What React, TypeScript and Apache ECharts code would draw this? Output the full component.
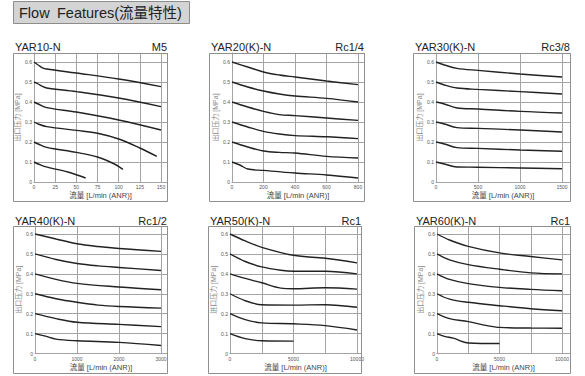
import React, { useEffect, useRef } from "react";
import * as echarts from "echarts";

// ---- data ----
const PANEL_TITLES = ["YAR10-N", "YAR20(K)-N", "YAR30(K)-N", "YAR40(K)-N", "YAR50(K)-N", "YAR60(K)-N"];
const PORT_SIZES = ["M5", "Rc1/4", "Rc3/8", "Rc1/2", "Rc1", "Rc1"];
const X_DATA_MAX = [150, 800, 1500, 3000, 10000, 10000];
const X_GRID_STEPS = [25, 200, 500, 1000, 2500, 2500];
const X_LABEL_STEPS = [25, 200, 500, 1000, 5000, 5000];
const Y_TICK_STEP = 0.1;
const Y_DATA_MAX = 0.6;
const Y_AXIS_NAMES = ["出口压力 [MPa]", "出口压力 [MPa]", "出口压力 [MPa]", "出口压力 [MPa]", "进口压力 [MPa]", "出口压力 [MPa]"];
const X_AXIS_NAME = "流量 [L/min (ANR)]";
const HEADER_WORDS = ["Flow", "Features(流量特性)"];

const YAR10 = [
  [[0, 0.6], [5, 0.585], [10, 0.571], [15, 0.565], [50, 0.545], [100, 0.515], [150, 0.477]],
  [[0, 0.5], [5, 0.49], [10, 0.478], [15, 0.47], [50, 0.452], [100, 0.42], [150, 0.377]],
  [[0, 0.4], [5, 0.39], [15, 0.372], [50, 0.35], [100, 0.31], [150, 0.26]],
  [[0, 0.3], [5, 0.29], [15, 0.277], [50, 0.258], [75, 0.244], [100, 0.215], [125, 0.17], [145, 0.128]],
  [[0, 0.2], [5, 0.19], [15, 0.173], [50, 0.148], [75, 0.125], [95, 0.09], [105, 0.063]],
  [[0, 0.1], [5, 0.09], [12, 0.078], [40, 0.05], [61, 0.02]],
];
const YAR20 = [
  [[0, 0.6], [100, 0.575], [200, 0.55], [300, 0.535], [400, 0.525], [600, 0.505], [800, 0.487]],
  [[0, 0.5], [100, 0.475], [200, 0.455], [300, 0.44], [400, 0.43], [600, 0.418], [800, 0.4]],
  [[0, 0.4], [100, 0.375], [200, 0.353], [300, 0.337], [400, 0.332], [600, 0.32], [800, 0.308]],
  [[0, 0.3], [100, 0.275], [200, 0.253], [300, 0.24], [400, 0.232], [600, 0.226], [800, 0.217]],
  [[0, 0.2], [100, 0.175], [200, 0.155], [300, 0.148], [400, 0.145], [600, 0.128], [800, 0.12]],
  [[0, 0.1], [50, 0.085], [100, 0.065], [200, 0.058], [400, 0.045], [600, 0.035], [800, 0.02]],
];
const YAR30 = [
  [[0, 0.6], [100, 0.585], [250, 0.568], [500, 0.558], [1000, 0.54], [1500, 0.525]],
  [[0, 0.5], [100, 0.485], [250, 0.47], [500, 0.463], [1000, 0.452], [1500, 0.44]],
  [[0, 0.4], [100, 0.39], [250, 0.37], [500, 0.365], [1000, 0.353], [1500, 0.345]],
  [[0, 0.3], [100, 0.29], [250, 0.272], [500, 0.268], [1000, 0.26], [1500, 0.25]],
  [[0, 0.2], [100, 0.19], [250, 0.172], [500, 0.168], [1000, 0.16], [1500, 0.154]],
  [[0, 0.1], [100, 0.09], [250, 0.075], [500, 0.074], [1000, 0.07], [1500, 0.066]],
];
const YAR40 = [
  [[0, 0.6], [500, 0.575], [1000, 0.551], [1500, 0.537], [2000, 0.527], [3000, 0.513]],
  [[0, 0.5], [500, 0.472], [1000, 0.452], [1500, 0.44], [2000, 0.432], [3000, 0.417]],
  [[0, 0.4], [500, 0.372], [1000, 0.352], [2000, 0.334], [3000, 0.32]],
  [[0, 0.3], [500, 0.275], [1000, 0.257], [1500, 0.243], [2000, 0.236], [3000, 0.228]],
  [[0, 0.2], [500, 0.175], [1000, 0.157], [2000, 0.146], [3000, 0.135]],
  [[0, 0.1], [250, 0.087], [500, 0.072], [1000, 0.064], [2000, 0.056], [3000, 0.04]],
];
const YAR50 = [
  [[0, 0.6], [1200, 0.565], [2500, 0.533], [5000, 0.493], [7500, 0.478], [10000, 0.455]],
  [[0, 0.5], [1200, 0.462], [2500, 0.435], [4000, 0.418], [5000, 0.413], [7500, 0.413], [10000, 0.4]],
  [[0, 0.4], [1200, 0.377], [2500, 0.355], [4000, 0.328], [5000, 0.325], [7500, 0.33], [10000, 0.323]],
  [[0, 0.3], [1200, 0.265], [2500, 0.245], [5000, 0.243], [7500, 0.245], [10000, 0.232]],
  [[0, 0.2], [1200, 0.17], [2500, 0.154], [5000, 0.149], [7500, 0.14], [10000, 0.118]],
  [[0, 0.1], [1200, 0.075], [2500, 0.064], [5000, 0.062]],
];
const YAR60 = [
  [[0, 0.6], [1000, 0.57], [2500, 0.538], [5000, 0.505], [7500, 0.487], [10000, 0.47]],
  [[0, 0.5], [1000, 0.47], [2500, 0.446], [5000, 0.423], [7500, 0.405], [10000, 0.4]],
  [[0, 0.4], [1000, 0.372], [2500, 0.351], [5000, 0.332], [7500, 0.322], [10000, 0.315]],
  [[0, 0.3], [1000, 0.273], [2500, 0.257], [5000, 0.24], [7500, 0.225], [10000, 0.215]],
  [[0, 0.2], [1000, 0.175], [2500, 0.16], [4000, 0.14], [5000, 0.131], [7500, 0.128], [10000, 0.127]],
  [[0, 0.1], [600, 0.086], [1300, 0.077], [2500, 0.053], [5000, 0.05]],
];
const PANEL_DATA = [YAR10, YAR20, YAR30, YAR40, YAR50, YAR60];

// ---- layout (pixels) ----
const ROWS = [
  { frameY: 53, frameH: 148, y06: 62, y0: 182, titleY: 46.5 },
  { frameY: 226, frameH: 147, y06: 234, y0: 353.5, titleY: 220.5 },
];
const COLS = [
  { frameX: 13, frameR: 167, x0: 34, xEnd: 161 },
  { frameX: 209, frameR: 364, x0: 232, xEnd: 358 },
  { frameX: 413, frameR: 570, x0: 436, xEnd: 562 },
  { frameX: 13, frameR: 167, x0: 35, xEnd: 161 },
  { frameX: 208, frameR: 361, x0: 230, xEnd: 357 },
  { frameX: 414, frameR: 570, x0: 437, xEnd: 562 },
];

const FONT = "'Liberation Sans', Arial, 'Noto Sans CJK SC', sans-serif";
const GRID_COLOR = "#a4a4a4";

function buildOption() {
  const grids: any[] = [];
  const xAxes: any[] = [];
  const yAxes: any[] = [];
  const series: any[] = [];
  const graphics: any[] = [];

  graphics.push({
    type: "rect",
    shape: { x: 13.5, y: 1.5, width: 176, height: 22 },
    style: { fill: "#d4d4d4", stroke: "#8c8c8c", lineWidth: 1 },
  });
  const headerX = [19, 57];
  HEADER_WORDS.forEach((w, k) => {
    graphics.push({
      type: "text",
      x: headerX[k],
      y: 12.5,
      style: { text: w, fontSize: 14.5, fontFamily: FONT, fill: "#222", textVerticalAlign: "middle" },
    });
  });

  for (let i = 0; i < 6; i++) {
    const row = ROWS[i < 3 ? 0 : 1];
    const col = COLS[i];
    const dataMax = X_DATA_MAX[i];
    const xMax = (dataMax * (col.frameR - col.x0)) / (col.xEnd - col.x0);
    const yMax = (Y_DATA_MAX * (row.y0 - row.frameY)) / (row.y0 - row.y06);
    const labelStep = X_LABEL_STEPS[i];

    graphics.push({
      type: "rect",
      shape: { x: col.frameX + 0.5, y: row.frameY + 0.5, width: col.frameR - col.frameX, height: row.frameH },
      style: { fill: "none", stroke: "#8f8f8f", lineWidth: 1 },
      z: 10,
    });
    graphics.push({
      type: "text",
      x: col.frameX + 2,
      y: row.titleY,
      style: { text: PANEL_TITLES[i], fontSize: 11, fontFamily: FONT, fill: "#222", textVerticalAlign: "middle" },
    });
    graphics.push({
      type: "text",
      x: col.frameR,
      y: row.titleY,
      style: {
        text: PORT_SIZES[i],
        fontSize: 11,
        fontFamily: FONT,
        fill: "#222",
        textAlign: "right",
        textVerticalAlign: "middle",
      },
    });

    grids.push({
      left: col.x0,
      top: row.frameY,
      width: col.frameR - col.x0,
      height: row.y0 - row.frameY,
      containLabel: false,
    });
    xAxes.push({
      type: "value",
      gridIndex: i,
      min: 0,
      max: xMax,
      interval: X_GRID_STEPS[i],
      name: X_AXIS_NAME,
      nameLocation: "middle",
      nameGap: 10,
      nameTextStyle: { fontSize: 7.5, fontFamily: FONT, color: "#444", verticalAlign: "top" },
      axisLine: { show: true, lineStyle: { color: GRID_COLOR, width: 1 } },
      axisTick: { show: false },
      splitLine: { show: true, lineStyle: { color: GRID_COLOR, width: 1 } },
      axisLabel: {
        fontSize: 5,
        margin: 2.5,
        color: "#555",
        fontFamily: FONT,
        hideOverlap: false,
        formatter: (v: number) => {
          const r = v / labelStep;
          return Math.abs(r - Math.round(r)) < 1e-6 && v <= dataMax + 1e-6 ? String(Math.round(v)) : "";
        },
      },
    });
    yAxes.push({
      type: "value",
      gridIndex: i,
      min: 0,
      max: yMax,
      interval: Y_TICK_STEP,
      name: Y_AXIS_NAMES[i],
      nameLocation: "middle",
      nameGap: 6,
      nameRotate: 90,
      nameTextStyle: { fontSize: 7, fontFamily: FONT, color: "#8a8a8a", verticalAlign: "bottom" },
      axisLine: { show: true, lineStyle: { color: GRID_COLOR, width: 1 } },
      axisTick: { show: false },
      splitLine: { show: true, lineStyle: { color: GRID_COLOR, width: 1 } },
      axisLabel: {
        fontSize: 5,
        margin: 2,
        color: "#555",
        fontFamily: FONT,
        formatter: (v: number) => {
          const r = v / Y_TICK_STEP;
          if (Math.abs(r - Math.round(r)) > 1e-6 || v > Y_DATA_MAX + 1e-6) return "";
          return v === 0 ? "0" : v.toFixed(1);
        },
      },
    });

    PANEL_DATA[i].forEach((curve) => {
      series.push({
        type: "line",
        xAxisIndex: i,
        yAxisIndex: i,
        data: curve,
        smooth: 0.35,
        showSymbol: false,
        symbol: "none",
        silent: true,
        lineStyle: { color: "#222", width: 1.4 },
      });
    });
  }

  return {
    animation: false,
    backgroundColor: "#ffffff",
    grid: grids,
    xAxis: xAxes,
    yAxis: yAxes,
    series,
    graphic: graphics,
  };
}

export default function App() {
  const ref = useRef<HTMLDivElement>(null);
  useEffect(() => {
    document.body.style.margin = "0";
    if (!ref.current) return;
    const chart = echarts.init(ref.current, undefined, { renderer: "svg" });
    chart.setOption(buildOption() as any);
    return () => chart.dispose();
  }, []);
  return <div ref={ref} style={{ width: 585, height: 376 }} />;
}
